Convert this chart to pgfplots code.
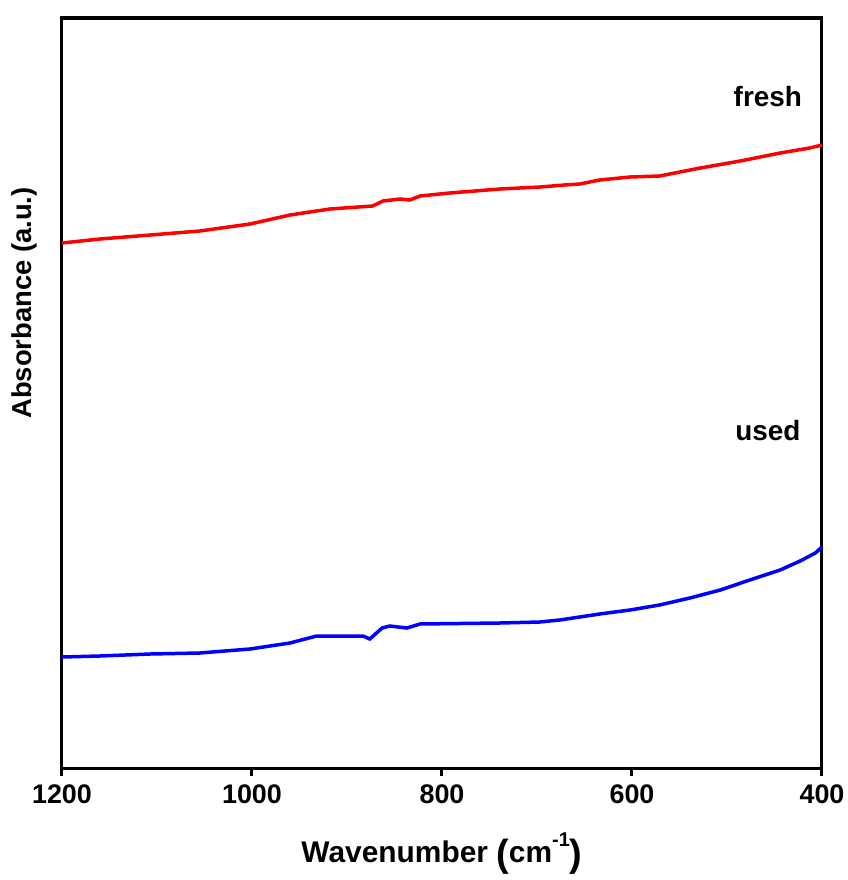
\documentclass[border=0pt]{standalone}
\usepackage{pgfplots}
\pgfplotsset{compat=1.18}
\usepackage{fontspec}
\setmainfont{Liberation Sans}
\begin{document}
\begin{tikzpicture}
\begin{axis}[
  scale only axis,
  width=760bp, height=750bp,
  x dir=reverse,
  xmin=400, xmax=1200,
  ymin=0, ymax=750,
  xtick={1200,1000,800,600,400},
  ytick=\empty,
  xtick pos=bottom,
  tick align=outside,
  major tick length=8bp,
  axis line style={line width=3bp},
  tick style={line width=3bp, black},
  /pgf/number format/assume math mode=true,
  /pgf/number format/1000 sep={},
  tick label style={font=\fontsize{27}{27}\selectfont\bfseries},
  xticklabel style={yshift=-5bp},
  xlabel={\fontsize{30}{30}\selectfont\bfseries Wavenumber \raisebox{-0.12em}{\fontsize{38}{38}\selectfont(}cm\raisebox{0.55em}{\fontsize{20}{20}\selectfont-1}\raisebox{-0.12em}{\fontsize{38}{38}\selectfont)}},
  ylabel={\fontsize{27.5}{27.5}\selectfont\bfseries Absorbance (a.u.)},
  xlabel style={yshift=-22bp},
  ylabel style={at={(axis description cs:-0.049,0.62)}, anchor=center},
  clip=false
]
\addplot[red, line width=3.5bp] coordinates {
  (1200,525) (1160,529) (1107,533) (1055,537) (1002,544) (960,553)
  (918,559) (873,562) (862,567) (844,569) (834,568) (823,572)
  (792,575) (739,579) (697,581) (671,583) (655,584) (634,588)
  (602,591) (571,592) (528,600) (486,607) (444,615) (413,620) (400,623)
};
\addplot[blue, line width=3.5bp] coordinates {
  (1200,111) (1160,112) (1107,114) (1055,115) (1002,119) (960,125)
  (932,132) (883,132) (876,129) (863,140) (855,142) (837,140)
  (823,144) (739,145) (697,146) (676,148) (634,154) (602,158)
  (571,163) (539,170) (507,178) (476,188) (444,198) (423,207)
  (407,215) (400,221)
};
\node[font=\fontsize{28}{28}\selectfont\bfseries] at (axis cs:457,671) {fresh};
\node[font=\fontsize{28}{28}\selectfont\bfseries] at (axis cs:457,337) {used};
\end{axis}
\path (current axis.south west) ++(-62bp,-112bp) rectangle ++(846bp,880bp);
\end{tikzpicture}
\end{document}
